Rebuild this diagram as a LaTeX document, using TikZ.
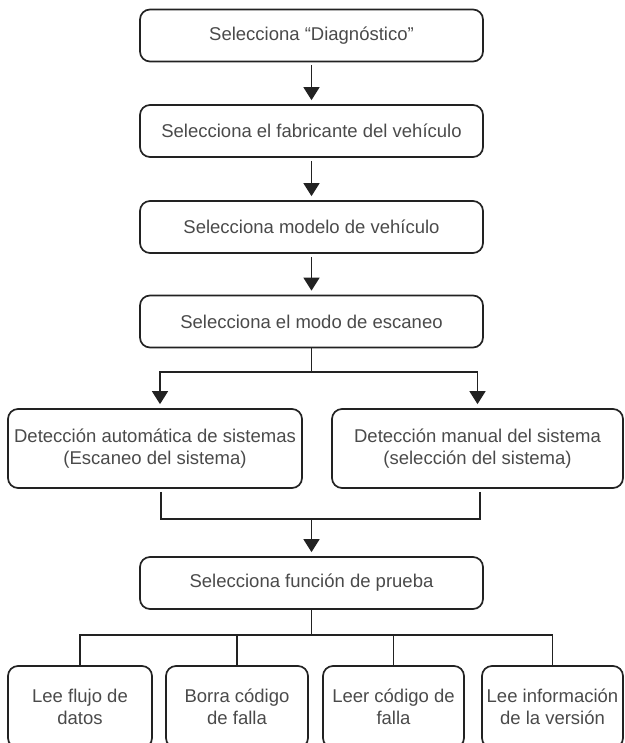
\documentclass[tikz,border=0pt]{standalone}
\usepackage{fontspec}
\setmainfont{Liberation Sans}
\usetikzlibrary{arrows.meta}
\definecolor{txt}{HTML}{4A4A4A}
\definecolor{ln}{HTML}{222222}
\begin{document}
\begin{tikzpicture}[x=1pt,y=-1pt,
  box/.style={draw=ln, line width=1.7pt, rounded corners=10pt, inner sep=0pt,
    align=center, text=txt, font=\fontsize{18.5}{22}\selectfont},
  wide/.style={box, minimum width=343pt, minimum height=52pt},
  leaf/.style={box, minimum height=82pt},
  conn/.style={draw=ln, line width=1.5pt},
  arr/.style={conn, -{Triangle[width=16pt,length=13pt]}, shorten >=4pt, shorten <=3pt}]
\useasboundingbox (0,0) rectangle (624,743);
\clip (0,0) rectangle (624,743);
\node[wide] (b1) at (311.5,35.5) {Selecciona “Diagnóstico”};
\node[wide] (b2) at (311.5,131) {Selecciona el fabricante del vehículo};
\node[wide] (b3) at (311.5,227) {Selecciona modelo de vehículo};
\node[wide] (b4) at (311.5,321.5) {Selecciona el modo de escaneo};
\node[box, minimum width=294pt, minimum height=79pt] (l) at (155,448.5)
  {Detección automática de sistemas\\(Escaneo del sistema)};
\node[box, minimum width=291pt, minimum height=79pt] (r) at (477.5,448.5)
  {Detección manual del sistema\\(selección del sistema)};
\node[wide] (b5) at (311.5,583) {Selecciona función de prueba};
\node[leaf, minimum width=144pt] (f1) at (80,707) {Lee flujo de\\datos};
\node[leaf, minimum width=142pt] (f2) at (237,707) {Borra código\\de falla};
\node[leaf, minimum width=141pt] (f3) at (393.5,707) {Leer código de\\falla};
\node[leaf, minimum width=141pt] (f4) at (552.5,707) {Lee información\\de la versión};
\draw[arr] (b1) -- (b2);
\draw[arr] (b2) -- (b3);
\draw[arr] (b3) -- (b4);
\coordinate (sp) at (311.5,372);
\draw[conn, shorten <=0pt] (b4.south) -- (sp);
\draw[arr, shorten <=0pt] (sp) -| ([xshift=5pt]l.north);
\draw[arr, shorten <=0pt] (sp) -| (r.north);
\coordinate (mg) at (311.5,519);
\draw[conn, shorten <=3pt] ([xshift=6pt]l.south) |- (mg);
\draw[conn, shorten <=3pt] ([xshift=2.5pt]r.south) |- (mg);
\draw[arr, shorten <=0pt] (mg) -- (b5);
\coordinate (tr) at (311.5,635);
\draw[conn] (b5.south) -- (tr);
\draw[conn] (f1.north) |- (tr);
\draw[conn] (f4.north) |- (tr);
\draw[conn] (f2.north) -- (f2.north |- tr);
\draw[conn] (f3.north) -- (f3.north |- tr);
\end{tikzpicture}
\end{document}
